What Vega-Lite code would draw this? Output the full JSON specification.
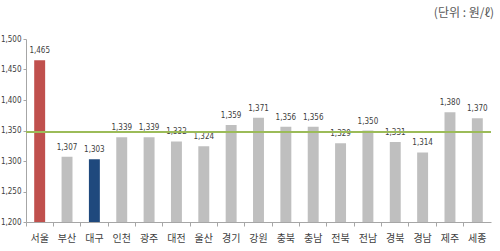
{
  "$schema": "https://vega.github.io/schema/vega-lite/v6.json",
  "autosize": "none",
  "width": 465,
  "height": 183,
  "padding": {"left": 26, "top": 39, "right": 9, "bottom": 29},
  "background": "white",
  "title": {"text": "(단위 : 원/ℓ)", "anchor": "end", "orient": "top", "offset": 15, "font": "Noto Sans CJK KR", "fontSize": 12, "fontWeight": "normal", "color": "#595959", "frame": "group", "dx": 3},
  "config": {"view": {"stroke": null}, "font": "Noto Sans CJK KR"},
  "data": {"values": [
    {"region": "서울", "price": 1465, "grp": "seoul"},
    {"region": "부산", "price": 1307, "grp": "other"},
    {"region": "대구", "price": 1303, "grp": "daegu"},
    {"region": "인천", "price": 1339, "grp": "other"},
    {"region": "광주", "price": 1339, "grp": "other"},
    {"region": "대전", "price": 1332, "grp": "other"},
    {"region": "울산", "price": 1324, "grp": "other"},
    {"region": "경기", "price": 1359, "grp": "other"},
    {"region": "강원", "price": 1371, "grp": "other"},
    {"region": "충북", "price": 1356, "grp": "other"},
    {"region": "충남", "price": 1356, "grp": "other"},
    {"region": "전북", "price": 1329, "grp": "other"},
    {"region": "전남", "price": 1350, "grp": "other"},
    {"region": "경북", "price": 1331, "grp": "other"},
    {"region": "경남", "price": 1314, "grp": "other"},
    {"region": "제주", "price": 1380, "grp": "other"},
    {"region": "세종", "price": 1370, "grp": "other"}
  ]},
  "encoding": {
    "x": {"field": "region", "type": "nominal", "sort": null,
      "scale": {"paddingInner": 0.6, "paddingOuter": 0.3},
      "axis": {"title": null, "labelAngle": 0, "labelFont": "Noto Sans CJK KR", "labelFontSize": 10, "labelColor": "#404040", "labelPadding": 7, "labelOverlap": false, "labelBound": false, "domainColor": "#A6A6A6", "tickColor": "#A6A6A6", "tickSize": 4, "bandPosition": -0.75, "labelOffset": 0}},
    "y": {"field": "price", "type": "quantitative",
      "scale": {"domain": [1200, 1500], "zero": false, "nice": false},
      "axis": {"title": null, "values": [1200, 1250, 1300, 1350, 1400, 1450, 1500], "format": ",.0f", "grid": false, "labelFont": "DejaVu Sans Condensed", "labelFontSize": 8, "labelColor": "#404040", "domainColor": "#A6A6A6", "tickColor": "#A6A6A6", "tickSize": 3, "labelPadding": 2}}
  },
  "layer": [
    {"mark": {"type": "bar", "clip": true},
     "encoding": {"color": {"field": "grp", "type": "nominal", "legend": null,
       "scale": {"domain": ["seoul", "daegu", "other"], "range": ["#C0504D", "#1F497D", "#BFBFBF"]}}}},
    {"mark": {"type": "text", "dy": -9, "font": "DejaVu Sans Condensed", "fontSize": 8, "color": "#404040"},
     "encoding": {"text": {"field": "price", "type": "quantitative", "format": ",.0f"}}},
    {"mark": {"type": "rule", "color": "#9BBB59", "strokeWidth": 1.5},
     "encoding": {"y": {"datum": 1348}, "x": null}}
  ]
}
